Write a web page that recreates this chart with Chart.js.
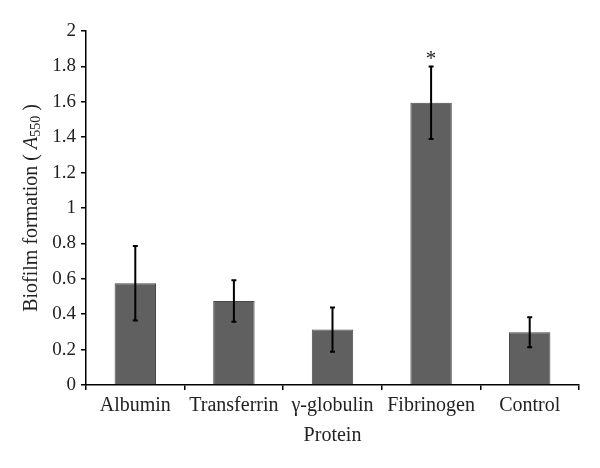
<!DOCTYPE html>
<html lang="en">
<head>
    <meta charset="UTF-8">
    <title>Biofilm formation</title>
    <script src="https://cdn.jsdelivr.net/npm/chart.js"></script>
    <style>
        body {
            margin: 0;
            background-color: #ffffff;
        }
        #chartContainer {
            width: 600px;
            height: 468px;
            position: relative;
        }
    </style>
</head>
<body>
    <div id="chartContainer">
        <canvas id="myChartCanvas"></canvas>
    </div>

<script>
    // data
    var proteins = ['Albumin', 'Transferrin', 'γ-globulin', 'Fibrinogen', 'Control'];
    var biofilm = [0.575, 0.475, 0.313, 1.595, 0.298];
    var errors = [0.21, 0.117, 0.125, 0.205, 0.085];
    var marks = ['', '', '', '*', ''];
    var yTicks = [0, 0.2, 0.4, 0.6, 0.8, 1, 1.2, 1.4, 1.6, 1.8, 2];

    var serif = "'Liberation Serif', 'Times New Roman', serif";

    // error bars + significance star
    var errorBars = {
        id: 'errorBars',
        afterDatasetsDraw: function(chart) {
            var ctx = chart.ctx;
            var meta = chart.getDatasetMeta(0);
            var y = chart.scales.y;
            ctx.save();
            ctx.strokeStyle = '#000';
            ctx.lineWidth = 2;
            meta.data.forEach(function(bar, i) {
                var x = bar.x;
                var top = y.getPixelForValue(biofilm[i] + errors[i]);
                var bot = y.getPixelForValue(biofilm[i] - errors[i]);
                ctx.beginPath();
                ctx.moveTo(x, top); ctx.lineTo(x, bot);
                ctx.moveTo(x - 2.5, top); ctx.lineTo(x + 2.5, top);
                ctx.moveTo(x - 2.5, bot); ctx.lineTo(x + 2.5, bot);
                ctx.stroke();
                if (marks[i]) {
                    ctx.fillStyle = '#222';
                    ctx.font = '21px ' + serif;
                    ctx.textAlign = 'center';
                    ctx.textBaseline = 'bottom';
                    ctx.fillText(marks[i], x, top + 4);
                }
            });
            ctx.restore();
        }
    };

    // y title with italic A and subscript 550
    var yTitle = {
        id: 'yTitle',
        afterDraw: function(chart) {
            var ctx = chart.ctx;
            var area = chart.chartArea;
            var parts = [
                { t: 'Biofilm formation ( ', f: '20px ' + serif, dy: 0 },
                { t: 'A', f: 'italic 20px ' + serif, dy: 0 },
                { t: '550', f: '14px ' + serif, dy: 4 },
                { t: ' )', f: '20px ' + serif, dy: 0 }
            ];
            var total = 0;
            parts.forEach(function(p) { ctx.font = p.f; p.w = ctx.measureText(p.t).width; total += p.w; });
            ctx.save();
            ctx.translate(32, (area.top + area.bottom) / 2);
            ctx.rotate(-Math.PI / 2);
            ctx.fillStyle = '#222';
            ctx.textBaseline = 'middle';
            ctx.textAlign = 'left';
            var cx = -total / 2;
            parts.forEach(function(p) {
                ctx.font = p.f;
                ctx.fillText(p.t, cx, p.dy);
                cx += p.w;
            });
            ctx.restore();
        }
    };

    var ctx = document.getElementById('myChartCanvas').getContext('2d');
    var myChart = new Chart(ctx, {
        type: 'bar',
        data: {
            labels: proteins,
            datasets: [{
                data: biofilm,
                backgroundColor: '#606060',
                borderColor: '#4a4a4a',
                borderWidth: 1,
                barPercentage: 0.42,
                categoryPercentage: 1
            }]
        },
        options: {
            maintainAspectRatio: false,
            responsive: true,
            animation: false,
            layout: { padding: { top: 31, right: 21, left: 0, bottom: 0 } },
            plugins: {
                legend: { display: false },
                tooltip: { enabled: false }
            },
            scales: {
                y: {
                    min: 0,
                    max: 2,
                    afterFit: function(s) { s.width = 86; },
                    afterBuildTicks: function(s) { s.ticks = yTicks.map(function(v) { return { value: v }; }); },
                    border: { color: '#000', width: 1.5 },
                    grid: { drawOnChartArea: false, drawTicks: true, tickLength: 5, color: '#000', lineWidth: 1.5 },
                    ticks: {
                        color: '#222',
                        padding: 5,
                        font: { family: serif, size: 19 },
                        callback: function(v) { return String(Math.round(v * 10) / 10); }
                    }
                },
                x: {
                    afterFit: function(s) { s.height = 83; },
                    border: { color: '#000', width: 1.5 },
                    grid: { drawOnChartArea: false, drawTicks: true, tickLength: 5, color: '#000', lineWidth: 1.5, offset: true },
                    ticks: {
                        color: '#222',
                        padding: 4,
                        maxRotation: 0,
                        font: { family: serif, size: 20 }
                    },
                    title: {
                        display: true,
                        text: 'Protein',
                        color: '#222',
                        font: { family: serif, size: 20 },
                        padding: { top: 0, bottom: 20 }
                    }
                }
            }
        },
        plugins: [errorBars, yTitle]
    });
</script>
</body>
</html>
